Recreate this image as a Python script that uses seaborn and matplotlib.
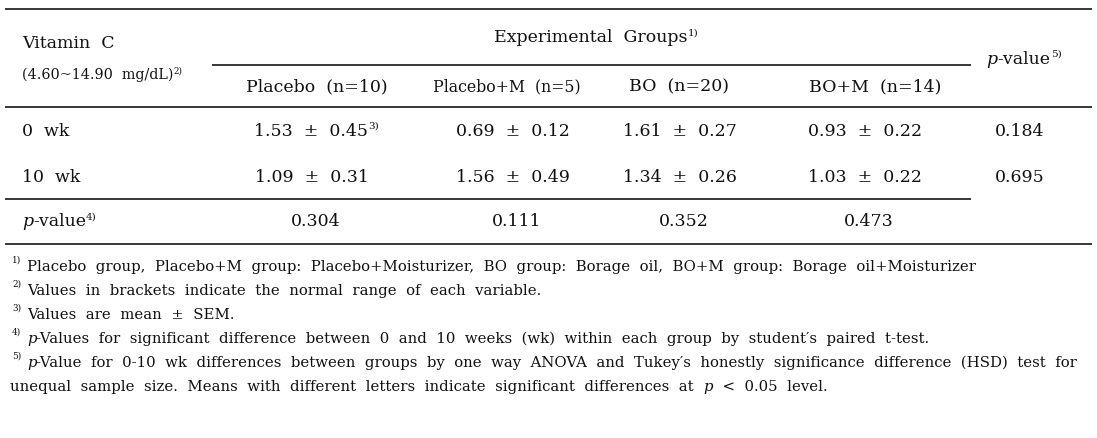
import matplotlib
matplotlib.use("Agg")
import matplotlib.pyplot as plt
import seaborn as sns

# Table data
groups = ["Placebo", "Placebo+M", "BO", "BO+M"]
n_sizes = [10, 5, 20, 14]
mean_0wk = [1.53, 0.69, 1.61, 0.93]
sem_0wk = [0.45, 0.12, 0.27, 0.22]
mean_10wk = [1.09, 1.56, 1.34, 1.03]
sem_10wk = [0.31, 0.49, 0.26, 0.22]
p_within = [0.304, 0.111, 0.352, 0.473]
p_between = [0.184, 0.695]
row_labels = ["0  wk", "10  wk"]
footnotes = [
    ("1)", [("Placebo  group,  Placebo+M  group:  Placebo+Moisturizer,  BO  group:  Borage  oil,  BO+M  group:  Borage  oil+Moisturizer", "n")]),
    ("2)", [("Values  in  brackets  indicate  the  normal  range  of  each  variable.", "n")]),
    ("3)", [("Values  are  mean  \u00b1  SEM.", "n")]),
    ("4)", [("p", "i"), ("-Values  for  significant  difference  between  0  and  10  weeks  (wk)  within  each  group  by  student\u2032s  paired  t-test.", "n")]),
    ("5)", [("p", "i"), ("-Value  for  0-10  wk  differences  between  groups  by  one  way  ANOVA  and  Tukey\u2032s  honestly  significance  difference  (HSD)  test  for", "n")]),
]
footnote_cont = [("unequal  sample  size.  Means  with  different  letters  indicate  significant  differences  at  ", "n"), ("p", "i"), ("  <  0.05  level.", "n")]

sns.set_theme(style="white")
plt.rcParams["font.family"] = ["DejaVu Serif"]

W, H = 1097, 438
fig = plt.figure(figsize=(W / 100, H / 100), dpi=100)
ax = fig.add_axes([0, 0, 1, 1])
ax.set_xlim(0, W)
ax.set_ylim(H, 0)
ax.axis("off")
renderer = fig.canvas.get_renderer()

FS = 12.5
FN = 10.7


def rich(x, y, parts, ha="left", size=FS):
    # parts: (text, kind) with kind n = normal, i = italic, s = superscript
    items = []
    cur = 0.0
    for s, kind in parts:
        fs = size * 0.6 if kind == "s" else size
        dy = -size * 0.42 if kind == "s" else 0
        t = ax.text(x + cur, y + dy, s, fontsize=fs, va="center", ha="left",
                    style="italic" if kind == "i" else "normal", color="#111111")
        w = t.get_window_extent(renderer).width
        items.append(t)
        cur += w
    if ha == "center":
        for t in items:
            t.set_x(t.get_position()[0] - cur / 2)
    return cur


# rules
lw = 1.1
ax.hlines(9, 5, 1092, color="black", lw=lw)
ax.hlines(65, 212, 971, color="black", lw=lw)
ax.hlines(107, 5, 1092, color="black", lw=lw)
ax.hlines(199, 5, 971, color="black", lw=lw)
ax.hlines(244, 5, 1092, color="black", lw=lw)

# header
rich(22, 44, [("Vitamin  C", "n")])
rich(22, 75, [("(4.60~14.90  mg/dL)", "n"), ("2)", "s")], size=10.3)
rich(596, 38, [("Experimental  Groups", "n"), ("1)", "s")], ha="center")
rich(1024, 59, [("p", "i"), ("-value", "n"), ("5)", "s")], ha="center")

head_x = [317, 507, 679, 875]
for g, n, x in zip(groups, n_sizes, head_x):
    size = 11.3 if g == "Placebo+M" else FS
    rich(x, 87, [(f"{g}  (n={n})", "n")], ha="center", size=size)

val_x = [312, 513, 680, 865]
for i, x in enumerate(val_x):
    parts0 = [(f"{mean_0wk[i]:.2f}  \u00b1  {sem_0wk[i]:.2f}", "n")]
    if i == 0:
        rich(254, 131, parts0 + [("3)", "s")])
    else:
        rich(x, 131, parts0, ha="center")
    rich(x, 177, [(f"{mean_10wk[i]:.2f}  \u00b1  {sem_10wk[i]:.2f}", "n")], ha="center")
    rich(x + 4, 222, [(f"{p_within[i]:.3f}", "n")], ha="center")

for y, label in zip([131, 177], row_labels):
    rich(22, y, [(label, "n")])
rich(1020, 131, [(f"{p_between[0]:.3f}", "n")], ha="center")
rich(1020, 177, [(f"{p_between[1]:.3f}", "n")], ha="center")
rich(22, 222, [("p", "i"), ("-value", "n"), ("4)", "s")])

# footnotes
fy = [267, 291, 315, 339, 363]
for y, (sup, parts) in zip(fy, footnotes):
    rich(12, y - 2, [(sup, "s")], size=FN)
    rich(27, y, parts, size=FN)
rich(10, 387, footnote_cont, size=FN)

fig.savefig("out.png", dpi=100)
